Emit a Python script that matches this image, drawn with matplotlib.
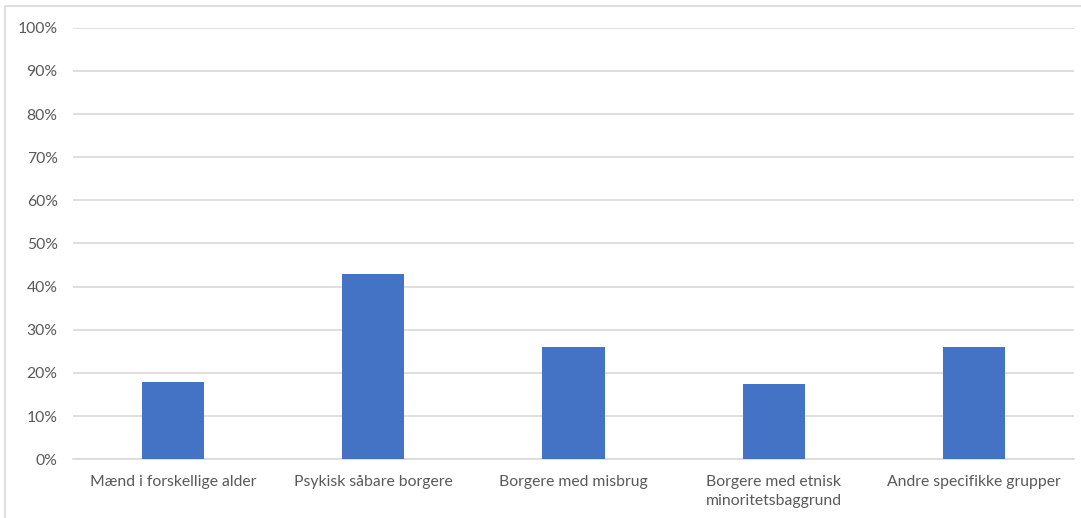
import numpy as np
import matplotlib
matplotlib.use('Agg')
from matplotlib import pyplot as plt
from matplotlib.patches import Rectangle

categories = [
    'Mænd i forskellige alder',
    'Psykisk såbare borgere',
    'Borgere med misbrug',
    'Borgere med etnisk\nminoritetsbaggrund',
    'Andre specifikke grupper',
]
shares = [18, 43, 26, 17.5, 26]
yticks = list(range(0, 101, 10))

plt.rcParams['font.family'] = ['Lato', 'DejaVu Sans']

fig = plt.figure(figsize=(10.81, 5.18), dpi=100)
ax = fig.add_axes([73 / 1081, 1 - 459.3 / 518, 1001 / 1081, (459.3 - 27.7) / 518])

x = np.arange(len(categories))
ax.bar(x, shares, width=0.31, color='#4472C4', zorder=3)

ax.set_xlim(-0.5, len(categories) - 0.5)
ax.set_ylim(0, 100)
ax.set_yticks(yticks)
ax.set_yticklabels([f'{v}%' for v in yticks])
ax.set_xticks(x)
ax.set_xticklabels(categories, linespacing=1.45)

ax.grid(axis='y', color='#D9D9D9', linewidth=1.2, zorder=0)
for side in ['top', 'right', 'left']:
    ax.spines[side].set_visible(False)
ax.spines['bottom'].set_color('#D9D9D9')
ax.spines['bottom'].set_linewidth(1.2)
ax.tick_params(axis='both', length=0, colors='#595959', labelsize=11.3)
ax.tick_params(axis='x', pad=11)
ax.tick_params(axis='y', pad=11)

# chart area border (cut off on the right and bottom)
fig.patches.append(Rectangle((5 / 1081, -0.1), 2, 1.1 - 6.5 / 518,
                             transform=fig.transFigure, fill=False,
                             edgecolor='#D9D9D9', linewidth=1.2))

fig.savefig('out.png', dpi=100)
